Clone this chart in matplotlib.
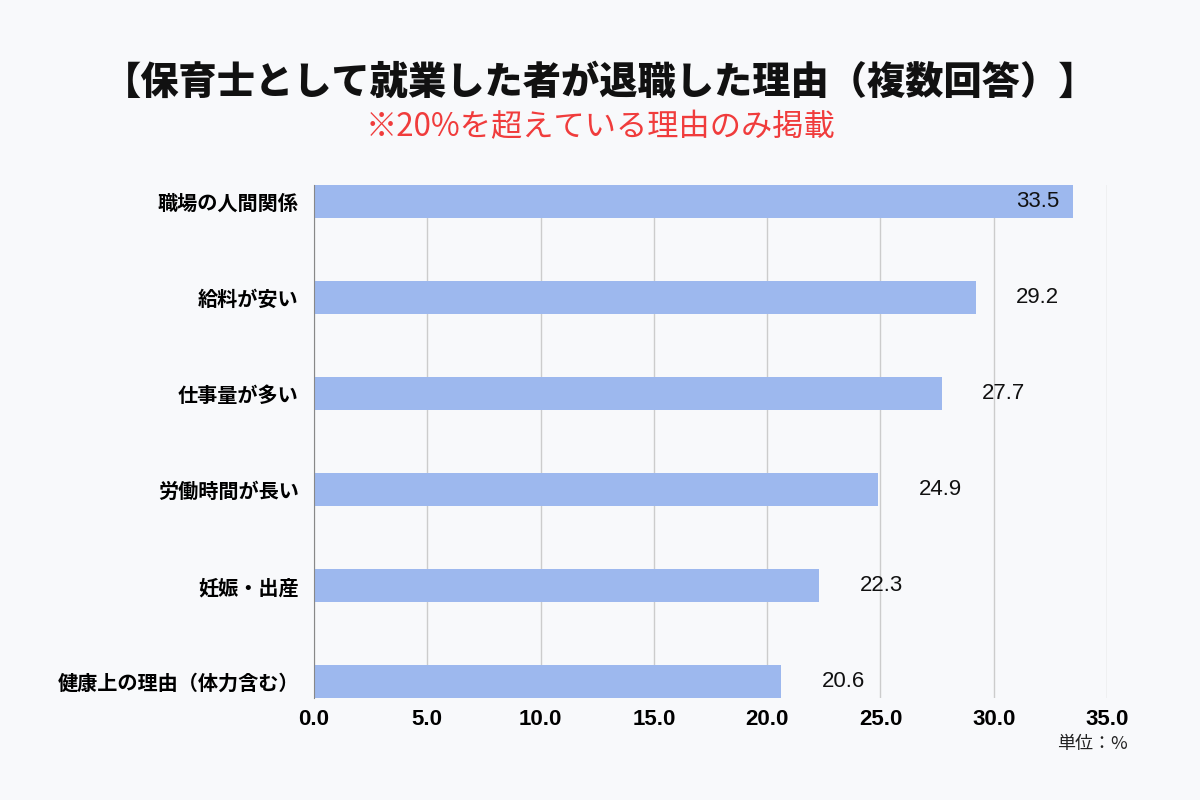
import matplotlib
matplotlib.use("Agg")
import matplotlib.pyplot as plt

plt.rcParams['font.family'] = ['Noto Sans CJK JP', 'DejaVu Sans']

# data
reasons = ["職場の人間関係", "給料が安い", "仕事量が多い", "労働時間が長い",
           "妊娠・出産", "健康上の理由（体力含む）"]
values = [33.5, 29.2, 27.7, 24.9, 22.3, 20.6]
xticks = [0, 5, 10, 15, 20, 25, 30, 35]

bg = "#F8F9FB"
bar_color = "#9DB8EE"

fig = plt.figure(figsize=(12, 8), dpi=100, facecolor=bg)
ax = fig.add_axes([0.2617, 0.1275, 0.6608, 0.64125], facecolor=bg)

h = 0.34
ypos = list(range(len(reasons)))
ax.barh(ypos, values, height=h, color=bar_color, zorder=2)

ax.set_xlim(0, 35)
ax.set_ylim(len(reasons) - 1 + h / 2, -h / 2)
ax.set_xticks(xticks)
ax.set_xticklabels([f"{t:.1f}" for t in xticks], fontfamily="Liberation Sans",
                   fontweight="bold", fontsize=16)
ax.set_yticks(ypos)
ax.set_yticklabels(reasons, fontweight="bold", fontsize=14.5)
ax.tick_params(axis="x", length=0, pad=8)
ax.tick_params(axis="y", length=0, pad=11)
ax.grid(axis="x", color="#CCCCCC", linewidth=1, zorder=0)
for s in ["top", "right", "bottom"]:
    ax.spines[s].set_visible(False)
ax.spines["left"].set_color("#888888")
ax.spines["left"].set_zorder(3)

for y, v in zip(ypos, values):
    if v > 32:
        ax.text(v - 0.6, y, f"{v:.1f}", ha="right", va="center",
                fontfamily="Liberation Sans", fontsize=16, color="#111111", zorder=4)
    else:
        ax.text(v + 2.75, y, f"{v:.1f}", ha="center", va="center",
                fontfamily="Liberation Sans", fontsize=16, color="#111111", zorder=4)

fig.text(0.5, 0.897, "【保育士として就業した者が退職した理由（複数回答）】",
         ha="center", va="center", fontsize=27.5, fontweight="heavy", color="#111111")
fig.text(0.5, 0.841, "※20%を超えている理由のみ掲載",
         ha="center", va="center", fontsize=22.5, color="#F03C3C")
fig.text(0.94, 0.07, "単位：%", ha="right", va="center", fontsize=13, color="#222222")

fig.savefig("out.png", dpi=100, facecolor=bg)
